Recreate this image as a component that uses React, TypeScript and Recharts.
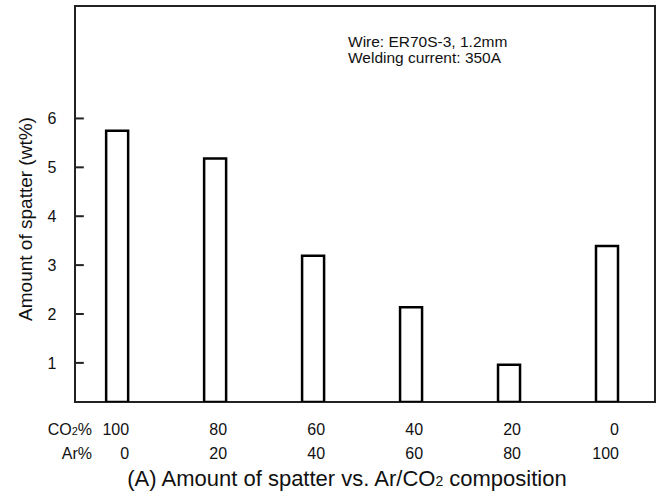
import React from "react";
import {
  BarChart,
  Bar,
  XAxis,
  YAxis,
  ReferenceArea,
  ReferenceLine,
  Customized,
} from "recharts";

const positions = [0, 1, 2, 3, 4, 5];
const co2Labels = ["100", "80", "60", "40", "20", "0"];
const arLabels = ["0", "20", "40", "60", "80", "100"];
const spatter = [5.75, 5.18, 3.19, 2.14, 0.96, 3.39];
const yTicks = [1, 2, 3, 4, 5, 6];

const data = positions.map((p, i) => ({ idx: p, spatter: spatter[i] }));

const X_DOMAIN: [number, number] = [-0.43, 5.49];
const Y_DOMAIN: [number, number] = [0.2, 8.3];
const TICK_LEN = 0.09; // inward tick length, in x units

const FONT = "'Liberation Sans', Arial, sans-serif";
const INK = "#111";
const FRAME = "#222";

const YTick = (props: any) => {
  const { y, payload } = props;
  return (
    <text x={52} y={y + 6} textAnchor="middle" fontSize={16} fill={INK} fontFamily={FONT}>
      {payload.value}
    </text>
  );
};

const XTick = (props: any) => {
  const { x, payload } = props;
  const i = positions.indexOf(payload.value);
  const right = x + 12;
  return (
    <g fontFamily={FONT} fontSize={16} fill={INK}>
      <text x={right} y={435} textAnchor="end">{co2Labels[i]}</text>
      <text x={right} y={459} textAnchor="end">{arLabels[i]}</text>
    </g>
  );
};

const Notes = () => (
  <g fontFamily={FONT} fill={INK}>
    <text x={348} y={47} fontSize={15.5}>Wire: ER70S-3, 1.2mm</text>
    <text x={348} y={63} fontSize={15.5}>Welding current: 350A</text>
    <text x={92} y={435} fontSize={16} textAnchor="end">
      CO<tspan fontSize={11}>2</tspan>%
    </text>
    <text x={92} y={459} fontSize={16} textAnchor="end">Ar%</text>
    <text
      transform="translate(32,219) rotate(-90)"
      textAnchor="middle"
      fontSize={19}
    >
      Amount of spatter (wt%)
    </text>
    <text x={347} y={486} fontSize={22} textAnchor="middle">
      (A) Amount of spatter vs. Ar/CO<tspan fontSize={14}>2</tspan> composition
    </text>
  </g>
);

export default function App() {
  return (
    <div style={{ position: "absolute", left: 0, top: 0, background: "#fff" }}>
      <BarChart
        width={658}
        height={497}
        data={data}
        margin={{ top: 6, right: 3, left: 0, bottom: 0 }}
      >
        <XAxis
          dataKey="idx"
          type="number"
          domain={X_DOMAIN}
          allowDataOverflow
          ticks={positions}
          tick={<XTick />}
          tickLine={false}
          axisLine={false}
          height={95}
          interval={0}
        />
        <YAxis
          type="number"
          domain={Y_DOMAIN}
          allowDataOverflow
          ticks={yTicks}
          tick={<YTick />}
          tickLine={false}
          axisLine={false}
          width={75}
          interval={0}
        />
        <ReferenceArea
          x1={X_DOMAIN[0]}
          x2={X_DOMAIN[1]}
          y1={Y_DOMAIN[0]}
          y2={Y_DOMAIN[1]}
          fill="none"
          fillOpacity={0}
          stroke={FRAME}
          strokeWidth={2}
          ifOverflow="visible"
        />
        {yTicks.map((t) => (
          <ReferenceLine
            key={t}
            segment={[
              { x: X_DOMAIN[0], y: t },
              { x: X_DOMAIN[0] + TICK_LEN, y: t },
            ]}
            stroke={FRAME}
            strokeWidth={2}
            ifOverflow="visible"
          />
        ))}
        <Bar
          dataKey="spatter"
          fill="#fff"
          stroke="#000"
          strokeWidth={2.5}
          barSize={22}
          isAnimationActive={false}
        />
        <Customized component={Notes} />
      </BarChart>
    </div>
  );
}
